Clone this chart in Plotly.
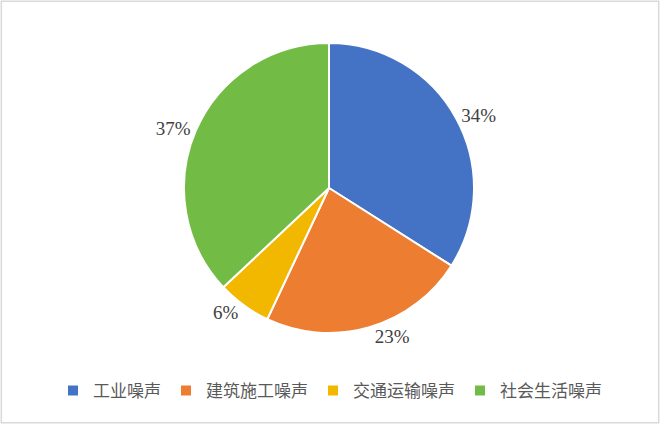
import plotly.graph_objects as go

labels = ['工业噪声', '建筑施工噪声', '交通运输噪声', '社会生活噪声']
values = [34, 23, 6, 37]
colors = ['#4472C4', '#ED7D31', '#F2B800', '#72BB44']

serif = dict(family='Liberation Serif, Times New Roman, serif', size=19, color='#404040')

fig = go.Figure()

fig.add_trace(
    go.Pie(
        labels=labels,
        values=values,
        sort=False,
        direction='clockwise',
        rotation=0,
        marker=dict(colors=colors, line=dict(color='white', width=2)),
        textinfo='percent',
        texttemplate='%{percent:.0%}',
        textposition='outside',
        textfont=serif,
        outsidetextfont=serif,
        domain=dict(x=[184 / 660, 474 / 660], y=[91 / 424, 381 / 424]),
        hoverinfo='label+percent',
    )
)

fig.update_layout(
    width=660,
    height=424,
    margin=dict(l=0, r=0, t=0, b=0),
    paper_bgcolor='white',
    plot_bgcolor='white',
    showlegend=True,
    legend=dict(
        orientation='h',
        x=0.5, xanchor='center',
        y=33 / 424, yanchor='middle',
        font=dict(family='Noto Sans CJK SC', size=17, color='#595959'),
        itemwidth=30,
    ),
    shapes=[
        dict(type='rect', xref='paper', yref='paper', x0=0.002, y0=0.003, x1=0.998, y1=0.997,
             line=dict(color='#D9D9D9', width=1.5)),
    ],
)

# page body has a default 8px margin, drop it so the figure sits at 0,0
fig.write_html('out.html', config={'displayModeBar': False},
               post_script="document.body.style.margin='0';")
